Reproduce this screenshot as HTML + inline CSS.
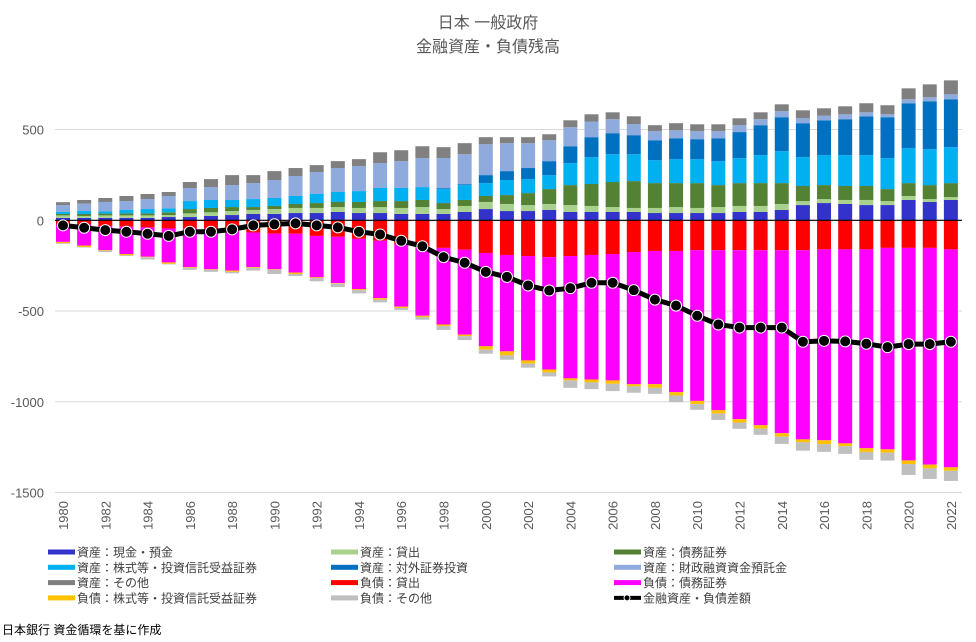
<!DOCTYPE html>
<html><head><meta charset="utf-8">
<style>
html,body{margin:0;padding:0;background:#fff;}
body{width:976px;height:637px;overflow:hidden;font-family:"Liberation Sans","Noto Sans CJK JP",sans-serif;}
svg text{font-family:"Liberation Sans","Noto Sans CJK JP",sans-serif;}
</style></head>
<body>
<svg id="chart" width="976" height="637" xmlns="http://www.w3.org/2000/svg">
<text x="488" y="28" text-anchor="middle" font-size="16" fill="#595959">日本 一般政府</text>
<text x="488" y="52" text-anchor="middle" font-size="16" fill="#595959">金融資産・負債残高</text>
<g id="grid"></g>
<g id="bars"></g>
<g id="line"></g>
<g id="xaxis"></g>
<g id="legend"></g>
<text x="2" y="634" font-size="12" fill="#000">日本銀行 資金循環を基に作成</text>
</svg>
<script>
const years = [];
for (let y = 1980; y <= 2022; y++) years.push(y);
const yTicks = [500, 0, -500, -1000, -1500];
const aCash = [13,13,13,13,13,18,18,24,29,35,35,40,40,46,40,40,35,35,35,46,62,51,51,57,46,46,46,46,40,40,40,40,46,46,57,84,95,90,84,84,112,101,112];
const aLoans = [14,11,14,14,14,11,20,20,22,22,27,28,28,27,28,33,33,38,27,33,39,39,33,33,38,33,27,22,28,33,28,33,33,33,33,22,22,22,28,22,22,16,16];
const aDebt = [8,11,10,11,11,15,24,24,22,16,17,22,27,28,33,33,38,39,33,33,33,49,66,82,110,121,138,148,137,132,137,121,126,126,115,83,77,77,77,66,71,77,77];
const aEquity = [11,16,12,19,24,22,44,44,39,44,44,44,50,55,60,72,72,71,77,82,71,83,77,77,121,148,153,148,126,132,132,132,137,154,176,159,165,170,170,170,193,198,198];
const aForeign = [0,0,0,0,0,0,0,0,0,0,0,0,0,0,0,0,0,0,5,5,44,49,61,77,93,110,116,105,110,115,110,126,144,165,187,187,192,198,214,226,247,264,264];
const aFilp = [38,41,52,49,55,68,72,71,82,88,99,110,121,132,138,137,148,160,166,165,170,154,137,115,105,86,77,61,50,44,44,39,38,33,33,27,26,27,22,16,22,22,27];
const aOther = [16,20,22,28,28,22,33,44,55,44,49,44,38,38,38,60,60,65,60,61,39,33,33,33,38,40,38,43,33,39,38,38,38,38,38,44,40,44,50,50,60,71,77];
const lLoans = [24,24,32,35,39,45,45,45,45,67,74,74,86,91,102,113,132,151,152,162,180,191,197,203,197,191,186,175,169,169,165,165,165,165,165,165,160,160,160,152,152,152,160];
const lDebt = [95,115,132,151,162,187,213,225,232,191,196,214,228,255,277,316,344,375,422,468,514,531,575,619,674,686,696,728,734,778,830,881,931,964,1008,1042,1052,1069,1096,1110,1171,1194,1201];
const lEquity = [7,8,3,7,3,8,4,3,7,4,3,8,4,3,6,8,7,7,8,8,19,22,18,16,11,16,19,12,20,18,18,19,18,19,19,16,22,16,20,18,20,21,19];
const lOther = [4,3,8,4,12,3,11,11,8,15,23,11,18,19,18,15,11,15,22,22,22,24,22,22,41,37,40,35,33,37,31,35,35,34,40,46,42,42,44,44,60,58,56];
const netDiff = [-28,-41,-54,-63,-74,-86,-63,-63,-50,-28,-22,-17,-28,-39,-63,-78,-113,-143,-203,-234,-284,-312,-359,-387,-374,-344,-344,-385,-437,-470,-526,-574,-591,-591,-591,-669,-664,-667,-680,-699,-682,-682,-669];

const NS = "http://www.w3.org/2000/svg";
const X0 = 63, DX = 21.14, BW = 14, Y0 = 220.3, K = 0.1815;
function xs(i){ return X0 + i*DX; }
function ys(v){ return Y0 - v*K; }
function mk(tag, attrs, parent){ const e=document.createElementNS(NS,tag); for(const k in attrs) e.setAttribute(k,attrs[k]); parent.appendChild(e); return e; }

const grid = document.getElementById('grid');
yTicks.forEach(t => {
  const ln = mk('line',{x1:55,x2:962,y1:ys(t),y2:ys(t),stroke:'#d9d9d9','stroke-width':1},grid);
  
  
  const tx = mk('text',{x:44,y:ys(t)+5,'text-anchor':'end','font-size':13,fill:'#595959'},grid);
  tx.textContent = t;
  
  
});

const posSeries = [[aCash,'#3333cc'],[aLoans,'#a9d18e'],[aDebt,'#548235'],[aEquity,'#00b0f0'],[aForeign,'#0070c0'],[aFilp,'#8faadc'],[aOther,'#808080']];
const negSeries = [[lLoans,'#ff0000'],[lDebt,'#ff00ff'],[lEquity,'#ffc000'],[lOther,'#bfbfbf']];
const bars = document.getElementById('bars');
years.forEach((yr,i) => {
  let c = 0;
  posSeries.forEach(([arr,col]) => {
    const v = arr[i]; if (!v) return;
    const r = mk('rect',{x:xs(i)-BW/2,y:ys(c+v),width:BW,height:v*K,fill:col},bars);
    
    
    c += v;
  });
  c = 0;
  negSeries.forEach(([arr,col]) => {
    const v = arr[i]; if (!v) return;
    const r = mk('rect',{x:xs(i)-BW/2,y:ys(-c),width:BW,height:v*K,fill:col},bars);
    
    
    c += v;
  });
});
const zl = mk('line',{x1:55,x2:962,y1:Y0,y2:Y0,stroke:'#000','stroke-width':1.2},bars);



const lg = document.getElementById('line');
const pl = mk('polyline',{points:netDiff.map((v,i)=>xs(i)+','+ys(v)).join(' '),fill:'none',stroke:'#000','stroke-width':5,'stroke-linejoin':'round'},lg);


netDiff.forEach((v,i) => {
  const c = mk('circle',{cx:xs(i),cy:ys(v),r:5.5,fill:'#000',stroke:'#fff','stroke-width':1},lg);
  
  
});

const xa = document.getElementById('xaxis');
years.forEach((yr,i) => {
  if (yr % 2) return;
  const t = mk('text',{x:0,y:0,'text-anchor':'end','font-size':13,fill:'#595959',transform:`translate(${xs(i)+5},501) rotate(-90)`},xa);
  t.textContent = yr;
  
  
});

const legendItems = [
 ['資産：現金・預金','#3333cc',0,0],['資産：貸出','#a9d18e',1,0],['資産：債務証券','#548235',2,0],
 ['資産：株式等・投資信託受益証券','#00b0f0',0,1],['資産：対外証券投資','#0070c0',1,1],['資産：財政融資資金預託金','#8faadc',2,1],
 ['資産：その他','#808080',0,2],['負債：貸出','#ff0000',1,2],['負債：債務証券','#ff00ff',2,2],
 ['負債：株式等・投資信託受益証券','#ffc000',0,3],['負債：その他','#bfbfbf',1,3],['金融資産・負債差額','line',2,3]
];
const colX = [48, 331, 614];
const lgd = document.getElementById('legend');
legendItems.forEach(([label,col,cx,ry]) => {
  const g = mk('g',{},lgd);
  
  
  const y = 552 + ry*15.3;
  if (col === 'line') {
    mk('line',{x1:colX[cx],x2:colX[cx]+27,y1:y,y2:y,stroke:'#000','stroke-width':4},g);
    mk('circle',{cx:colX[cx]+13,cy:y,r:3,fill:'#000',stroke:'#fff','stroke-width':1},g);
  } else {
    mk('rect',{x:colX[cx],y:y-2.5,width:27,height:5,fill:col},g);
  }
  const t = mk('text',{x:colX[cx]+29,y:y+4.5,'font-size':12,fill:'#404040'},g);
  t.textContent = label;
});
</script>
</body></html>
